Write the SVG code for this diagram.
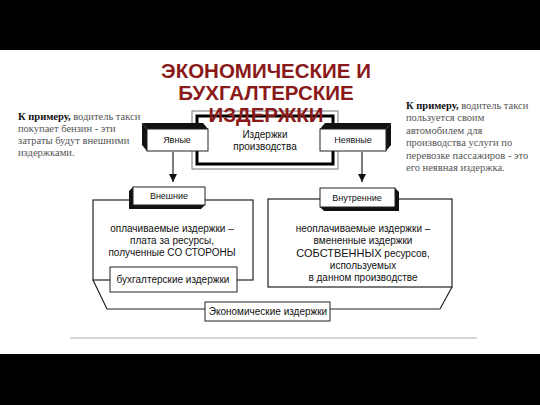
<svg xmlns="http://www.w3.org/2000/svg" width="540" height="405" viewBox="0 0 540 405">
<style>
.lbl{font-family:"Liberation Sans",Arial,sans-serif;font-size:10px;fill:#111;text-anchor:middle}
.small{font-size:9px}
.side{font-family:"Liberation Serif","Times New Roman",serif;font-size:10.5px;fill:#555}
.side .b{font-weight:bold;fill:#111}
.title{font-family:"Liberation Sans",Arial,sans-serif;font-size:20.5px;font-weight:bold;fill:#8a1a1a;text-anchor:middle}
.box{fill:#fff;stroke:#222;stroke-width:1}
.shade{fill:#111}
.ln{fill:none;stroke:#222;stroke-width:1.2}
</style>
<defs>
<marker id="ah" viewBox="0 0 10 10" refX="10" refY="5" markerWidth="8" markerHeight="8" markerUnits="userSpaceOnUse" orient="auto">
<path d="M0,0 L10,5 L0,10 z" fill="#111"/>
</marker>
</defs>
<rect x="0" y="0" width="540" height="405" fill="#fff"/>
<rect x="0" y="0" width="540" height="50" fill="#000"/>
<rect x="0" y="354" width="540" height="51" fill="#000"/>
<line x1="70" y1="338" x2="477" y2="338" stroke="#c8c8c8" stroke-width="1.5"/>

<g id="connectors">
<line class="ln" x1="173" y1="152" x2="173" y2="182" marker-end="url(#ah)"/>
<line class="ln" x1="362" y1="152" x2="362" y2="182" marker-end="url(#ah)"/>
<polyline class="ln" points="93,280 107,309 205,309"/>
<polyline class="ln" points="330,309 440,309 452,287"/>
</g>

<g id="center">
<rect x="192" y="111" width="146" height="58" fill="#fff" stroke="#777" stroke-width="1"/>
<rect x="197" y="116" width="136" height="48" fill="none" stroke="#000" stroke-width="3"/>
<text class="lbl" x="265" y="138">Издержки</text>
<text class="lbl" x="265" y="150">производства</text>
</g>

<g id="explicit">
<polygon class="shade" points="147,129 208,129 203,123 142,123"/>
<polygon class="shade" points="147,129 142,123 142,145 147,151"/>
<rect class="box" x="147" y="129" width="61" height="22"/>
<text class="lbl small" x="177" y="143">Явные</text>
</g>

<g id="implicit">
<polygon class="shade" points="320,129 386,129 391,123 325,123"/>
<polygon class="shade" points="386,129 391,123 391,145 386,151"/>
<rect class="box" x="320" y="129" width="66" height="22"/>
<text class="lbl small" x="353" y="143">Неявные</text>
</g>

<g id="external">
<rect x="93" y="200" width="160" height="80" fill="none" stroke="#222" stroke-width="1.2"/>
<polygon class="shade" points="133,187 129,191 129,209 201,209 205,205 133,205"/>
<rect class="box" x="133" y="187" width="72" height="18"/>
<text class="lbl small" x="169" y="199">Внешние</text>
<text class="lbl" x="172" y="232">оплачиваемые издержки –</text>
<text class="lbl" x="172" y="244">плата за ресурсы,</text>
<text class="lbl" x="172" y="256">полученные СО СТОРОНЫ</text>
</g>

<g id="accounting">
<rect class="box" x="110" y="267" width="127" height="25"/>
<text class="lbl" x="173" y="283">бухгалтерские издержки</text>
</g>

<g id="internal">
<rect x="268" y="199" width="184" height="88" fill="none" stroke="#222" stroke-width="1.2"/>
<polygon class="shade" points="395,188 399,192 399,211 324,211 320,207 395,207"/>
<rect class="box" x="320" y="188" width="75" height="19"/>
<text class="lbl small" x="357" y="201">Внутренние</text>
<text class="lbl" x="363" y="232">неоплачиваемые издержки –</text>
<text class="lbl" x="363" y="244">вмененные издержки</text>
<text class="lbl" x="363" y="257"><tspan font-size="11">СОБСТВЕННЫХ</tspan> ресурсов,</text>
<text class="lbl" x="363" y="269">используемых</text>
<text class="lbl" x="363" y="281">в данном производстве</text>
</g>

<g id="economic">
<rect class="box" x="205" y="302" width="125" height="19"/>
<text class="lbl" x="268" y="315">Экономические издержки</text>
</g>

<g id="title">
<text class="title" x="266" y="78">ЭКОНОМИЧЕСКИЕ И</text>
<text class="title" x="266" y="100">БУХГАЛТЕРСКИЕ</text>
<text class="title" x="266" y="122">ИЗДЕРЖКИ</text>
</g>

<g id="note-left" class="side">
<text x="18" y="120"><tspan class="b">К примеру,</tspan> водитель такси</text>
<text x="18" y="132">покупает бензин - эти</text>
<text x="18" y="144">затраты будут внешними</text>
<text x="18" y="156">издержками.</text>
</g>

<g id="note-right" class="side">
<text x="406" y="109"><tspan class="b">К примеру,</tspan> водитель такси</text>
<text x="406" y="121">пользуется своим</text>
<text x="406" y="134">автомобилем для</text>
<text x="406" y="146">производства услуги по</text>
<text x="406" y="159">перевозке пассажиров - это</text>
<text x="406" y="171">его неявная издержка.</text>
</g>
</svg>
